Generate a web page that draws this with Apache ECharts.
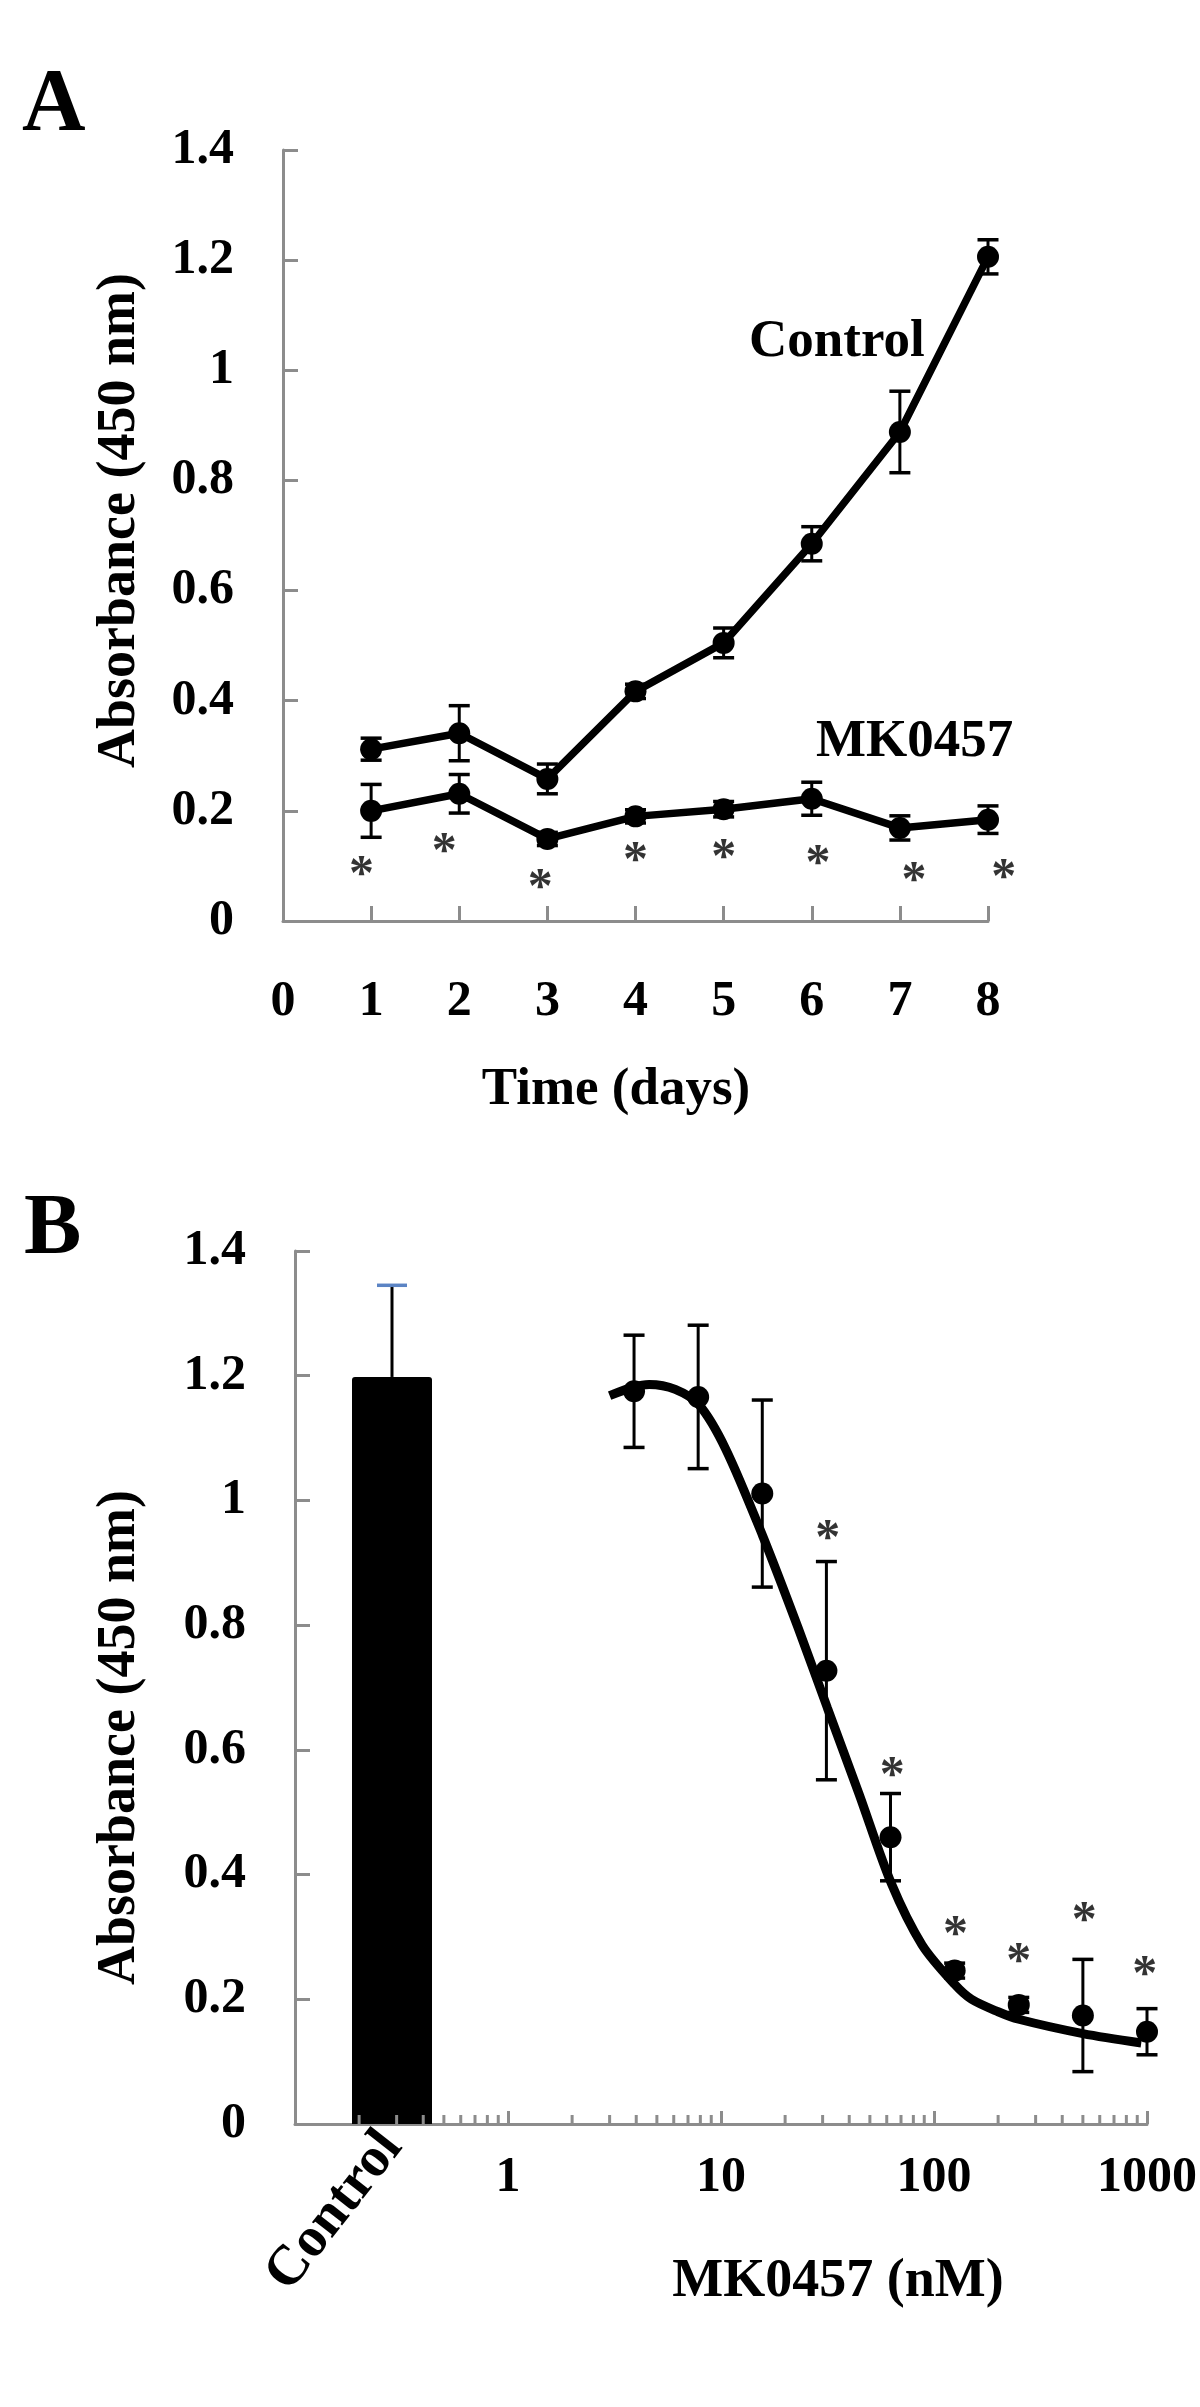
<!DOCTYPE html>
<html><head><meta charset="utf-8">
<script src="https://cdn.jsdelivr.net/npm/echarts@6/dist/echarts.min.js"></script>
<style>html,body{margin:0;padding:0;background:#fff}#c{width:1200px;height:2407px}</style>
</head><body><div id="c"></div>
<script>
// ---------- Panel A data ----------
const days = [1, 2, 3, 4, 5, 6, 7, 8];
const xTicksA = [0, 1, 2, 3, 4, 5, 6, 7, 8];
const controlA = [0.312, 0.341, 0.258, 0.417, 0.505, 0.685, 0.888, 1.206];
const controlAErr = [0.020, 0.050, 0.027, 0.013, 0.027, 0.031, 0.074, 0.031];
const mkA = [0.200, 0.231, 0.149, 0.190, 0.203, 0.222, 0.169, 0.184];
const mkAErr = [0.048, 0.035, 0.012, 0.012, 0.014, 0.030, 0.022, 0.025];
const starsA = [[0.89, 0.100], [1.83, 0.141], [2.92, 0.076], [4.0, 0.125], [5.0, 0.131], [6.07, 0.120], [7.16, 0.089], [8.18, 0.094]];
const yTicks = [0, 0.2, 0.4, 0.6, 0.8, 1, 1.2, 1.4];

// ---------- Panel B data ----------
const barCategory = ['Control'];
const controlBar = 1.198;
const controlBarErr = 0.147;
const concB = [3.90625, 7.8125, 15.625, 31.25, 62.5, 125, 250, 500, 1000];
const mkB = [1.175, 1.166, 1.011, 0.727, 0.460, 0.246, 0.191, 0.174, 0.148];
const mkBErr = [0.090, 0.115, 0.150, 0.175, 0.070, 0.012, 0.012, 0.090, 0.037];
const fitCurve = [[3.0, 1.168], [3.9, 1.182], [4.6, 1.186], [6.1, 1.178], [7.9, 1.153], [10.5, 1.083], [15.7, 0.943], [23, 0.796], [31.6, 0.667], [44.5, 0.529], [63, 0.386], [88, 0.287], [125, 0.224], [150, 0.200], [200, 0.180], [250, 0.168], [500, 0.145], [940, 0.130]];
const starsB = [[31.7, 0.953], [63.7, 0.573], [126, 0.318], [250, 0.274], [508, 0.340], [975, 0.253]];
const minorTicksB = [0.2, 0.3, 0.4, 0.5, 0.6, 0.7, 0.8, 0.9, 2, 3, 4, 5, 6, 7, 8, 9, 20, 30, 40, 50, 60, 70, 80, 90, 200, 300, 400, 500, 600, 700, 800, 900];

// ---------- styles ----------
const FONT = 'Liberation Serif';
const AX = '#8c8c8c';
const tickLab = { fontFamily: FONT, fontWeight: 'bold', fontSize: 50, color: '#000' };
const nameSty = { fontFamily: FONT, fontWeight: 'bold', fontSize: 54, color: '#000' };
const starLabel = { show: true, position: 'inside', formatter: '*', fontFamily: FONT, fontWeight: 'bold', fontSize: 50, color: '#000', offset: [0, 10] };

function errRender(capW, color, capColor, upperOnly) {
  return function (params, api) {
    const x = api.value(0), lo = api.value(1), hi = api.value(2);
    const pLo = api.coord([x, lo]), pHi = api.coord([x, hi]);
    const h = capW / 2;
    const ch = [
      { type: 'line', shape: { x1: pLo[0], y1: pLo[1], x2: pHi[0], y2: pHi[1] }, style: { stroke: color, lineWidth: 3 } },
      { type: 'line', shape: { x1: pHi[0] - h, y1: pHi[1], x2: pHi[0] + h, y2: pHi[1] }, style: { stroke: capColor || color, lineWidth: 3.5 } }
    ];
    if (!upperOnly) ch.push({ type: 'line', shape: { x1: pLo[0] - h, y1: pLo[1], x2: pLo[0] + h, y2: pLo[1] }, style: { stroke: color, lineWidth: 3.5 } });
    return { type: 'group', children: ch };
  };
}

const valAxisY = (gi, name, gap, pad) => ({
  gridIndex: gi, type: 'value', min: 0, max: 1.4, interval: 0.2,
  axisLine: { show: true, lineStyle: { color: AX, width: 3 } },
  axisTick: { show: true, inside: true, length: 15, lineStyle: { color: AX, width: 3 } },
  splitLine: { show: false },
  axisLabel: Object.assign({ margin: 49 }, tickLab),
  name: name, nameLocation: 'middle', nameGap: gap,
  nameTextStyle: Object.assign({ padding: pad }, nameSty)
});

const chart = echarts.init(document.getElementById('c'), null, { renderer: 'canvas' });
chart.setOption({
  backgroundColor: '#fff',
  animation: false,
  graphic: [
    { type: 'text', left: 22, top: 62, style: { text: 'A', font: 'bold 88px "Liberation Serif"', fill: '#000' } },
    { type: 'text', left: 24, top: 1188, style: { text: 'B', font: 'bold 86px "Liberation Serif"', fill: '#000' } },
    { type: 'text', left: 749, top: 316, style: { text: 'Control', font: 'bold 53px "Liberation Serif"', fill: '#000' } },
    { type: 'text', left: 816, top: 716, style: { text: 'MK0457', font: 'bold 53px "Liberation Serif"', fill: '#000' } }
  ],
  grid: [
    { left: 283, top: 150, width: 705, height: 771 },
    { left: 295, top: 1251, width: 854, height: 873 },
    { left: 332, top: 1251, width: 120, height: 873 }
  ],
  xAxis: [
    {
      gridIndex: 0, type: 'value', min: xTicksA[0], max: xTicksA[xTicksA.length - 1], interval: 1,
      axisLine: { lineStyle: { color: AX, width: 3 } },
      axisTick: { inside: true, length: 15, lineStyle: { color: AX, width: 3 } },
      splitLine: { show: false },
      axisLabel: Object.assign({ margin: 56 }, tickLab),
      name: 'Time (days)', nameLocation: 'middle', nameGap: 143,
      nameTextStyle: Object.assign({ padding: [0, 39, 0, 0] }, nameSty, { fontSize: 53 })
    },
    {
      gridIndex: 1, type: 'log', logBase: 10, min: 0.1, max: 1000, splitNumber: 4,
      axisLine: { lineStyle: { color: AX, width: 3 } },
      axisTick: { inside: true, length: 13, lineStyle: { color: AX, width: 3 } },
      splitLine: { show: false },
      axisLabel: Object.assign({ margin: 29, formatter: v => (v >= 0.999 ? String(Math.round(v)) : '') }, tickLab),
      name: 'MK0457 (nM)', nameLocation: 'middle', nameGap: 131,
      nameTextStyle: Object.assign({ padding: [0, 0, 0, 234] }, nameSty)
    },
    {
      gridIndex: 2, type: 'category', data: barCategory,
      axisLine: { show: false }, axisTick: { show: false },
      axisLabel: Object.assign({ rotate: 52, margin: 14, padding: [80, 0, 0, 0] }, tickLab, { fontSize: 56 })
    }
  ],
  yAxis: [
    valAxisY(0, 'Absorbance (450 nm)', 136, [0, 0, 0, 30]),
    valAxisY(1, 'Absorbance (450 nm)', 148, [0, 100, 0, 0]),
    { gridIndex: 2, type: 'value', min: 0, max: 1.4, show: false }
  ],
  series: [
    // Panel A
    {
      type: 'custom', xAxisIndex: 0, yAxisIndex: 0, z: 3, silent: true,
      renderItem: errRender(21, '#000'),
      data: days.map((d, i) => [d, controlA[i] - controlAErr[i], controlA[i] + controlAErr[i]])
    },
    {
      type: 'custom', xAxisIndex: 0, yAxisIndex: 0, z: 3, silent: true,
      renderItem: errRender(21, '#000'),
      data: days.map((d, i) => [d, mkA[i] - mkAErr[i], mkA[i] + mkAErr[i]])
    },
    {
      name: 'Control', type: 'line', xAxisIndex: 0, yAxisIndex: 0, z: 4,
      data: days.map((d, i) => [d, controlA[i]]),
      symbol: 'circle', symbolSize: 22, itemStyle: { color: '#000', opacity: 1 },
      lineStyle: { color: '#000', width: 7.5 }
    },
    {
      name: 'MK0457', type: 'line', xAxisIndex: 0, yAxisIndex: 0, z: 4,
      data: days.map((d, i) => [d, mkA[i]]),
      symbol: 'circle', symbolSize: 22, itemStyle: { color: '#000', opacity: 1 },
      lineStyle: { color: '#000', width: 7.5 }
    },
    {
      type: 'scatter', xAxisIndex: 0, yAxisIndex: 0, clip: false, silent: true,
      data: starsA, symbolSize: 1, itemStyle: { color: 'rgba(0,0,0,0)' },
      label: starLabel
    },
    // Panel B
    {
      type: 'bar', xAxisIndex: 2, yAxisIndex: 2, barWidth: 80, z: 2,
      data: [controlBar], itemStyle: { color: '#000', borderRadius: [3, 3, 0, 0] }
    },
    {
      type: 'custom', xAxisIndex: 2, yAxisIndex: 2, z: 3, silent: true,
      renderItem: errRender(30, '#000', '#5b84c4', true),
      data: [[0, controlBar, controlBar + controlBarErr]]
    },
    {
      type: 'scatter', xAxisIndex: 1, yAxisIndex: 1, z: 5, clip: false, silent: true,
      data: minorTicksB.map(v => [v, 0]), symbol: 'rect', symbolSize: [3, 9], symbolOffset: [0, -4.5],
      itemStyle: { color: AX, opacity: 1 }
    },
    {
      type: 'custom', xAxisIndex: 1, yAxisIndex: 1, z: 3, silent: true,
      renderItem: errRender(21, '#000'),
      data: concB.map((c, i) => [c, mkB[i] - mkBErr[i], mkB[i] + mkBErr[i]])
    },
    {
      type: 'line', xAxisIndex: 1, yAxisIndex: 1, z: 4, data: fitCurve, smooth: 0.3,
      showSymbol: false, lineStyle: { color: '#000', width: 9 }
    },
    {
      type: 'scatter', xAxisIndex: 1, yAxisIndex: 1, z: 4,
      data: concB.map((c, i) => [c, mkB[i]]), symbolSize: 22, itemStyle: { color: '#000', opacity: 1 }
    },
    {
      type: 'scatter', xAxisIndex: 1, yAxisIndex: 1, clip: false, silent: true,
      data: starsB, symbolSize: 1, itemStyle: { color: 'rgba(0,0,0,0)' },
      label: starLabel
    }
  ]
});
</script></body></html>
